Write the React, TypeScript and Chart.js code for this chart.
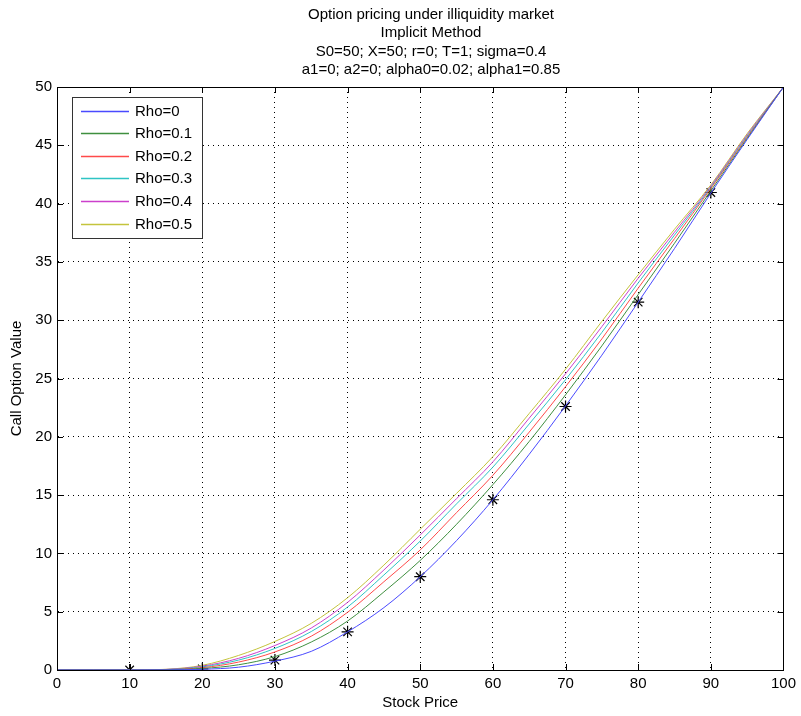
import React, { useEffect, useRef } from "react";
import { Chart, registerables } from "chart.js";

Chart.register(...registerables);

const FONT = "'Liberation Sans', Arial, Helvetica, sans-serif";

const titleLines = [
  "Option pricing under illiquidity market",
  "Implicit Method",
  "S0=50; X=50; r=0; T=1; sigma=0.4",
  "a1=0; a2=0; alpha0=0.02; alpha1=0.85",
];
const xLabel = "Stock Price";
const yLabel = "Call Option Value";

const stockPrice = [0, 5, 10, 15, 20, 25, 30, 35, 40, 45, 50, 55, 60, 65, 70, 75, 80, 85, 90, 95, 100];
const rho0 = [0, 0, 0, 0.01, 0.06, 0.24, 0.76, 1.6, 3.27, 5.35, 8.0, 11.1, 14.6, 18.5, 22.65, 27.0, 31.55, 36.15, 40.9, 45.5, 50];
const rho01 = [0, 0, 0, 0.02, 0.13, 0.45, 1.15, 2.4, 4.2, 6.7, 9.4, 12.5, 15.9, 19.6, 23.6, 27.8, 32.2, 36.6, 41.1, 45.6, 50];
const rho02 = [0, 0, 0, 0.03, 0.2, 0.68, 1.55, 2.9, 4.95, 7.57, 10.3, 13.5, 16.7, 20.4, 24.3, 28.4, 32.75, 37.0, 41.3, 45.7, 50];
const rho03 = [0, 0, 0, 0.04, 0.27, 0.85, 1.85, 3.3, 5.4, 8.15, 11.06, 14.25, 17.4, 21.1, 24.9, 28.95, 33.2, 37.3, 41.4, 45.8, 50];
const rho04 = [0, 0, 0, 0.05, 0.33, 1.0, 2.1, 3.6, 5.8, 8.58, 11.58, 14.7, 17.85, 21.6, 25.4, 29.45, 33.6, 37.55, 41.5, 45.9, 50];
const rho05 = [0, 0, 0, 0.06, 0.4, 1.25, 2.45, 4.0, 6.2, 9.0, 12.07, 15.15, 18.3, 22.0, 25.8, 29.9, 33.9, 37.8, 41.6, 46.0, 50];

const seriesNames = ["Rho=0", "Rho=0.1", "Rho=0.2", "Rho=0.3", "Rho=0.4", "Rho=0.5"];
const seriesValues = [rho0, rho01, rho02, rho03, rho04, rho05];
const seriesColors = ["#4a4aff", "#3f8f3f", "#ff4a4a", "#2ec4c4", "#cc40cc", "#c4c43c"];

const markerPrice = [10, 20, 30, 40, 50, 60, 70, 80, 90];
const markerValue = [0.0, 0.1, 0.85, 3.27, 8.0, 14.6, 22.6, 31.55, 40.95];

const xTickValues = [0, 10, 20, 30, 40, 50, 60, 70, 80, 90, 100];
const yTickValues = [0, 5, 10, 15, 20, 25, 30, 35, 40, 45, 50];

const decorPlugin = {
  id: "decor",
  afterDraw(chart: any) {
    const { ctx, chartArea } = chart;
    const { left, right, top, bottom } = chartArea;
    const xs = chart.scales.x;
    const ys = chart.scales.y;
    ctx.save();
    ctx.strokeStyle = "#000";
    ctx.lineWidth = 1;
    ctx.beginPath();
    const tl = 6;
    for (const v of xTickValues) {
      const px = Math.round(xs.getPixelForValue(v)) + 0.5;
      ctx.moveTo(px, bottom);
      ctx.lineTo(px, bottom - tl);
      ctx.moveTo(px, top);
      ctx.lineTo(px, top + tl);
    }
    for (const v of yTickValues) {
      const py = Math.round(ys.getPixelForValue(v)) + 0.5;
      ctx.moveTo(left, py);
      ctx.lineTo(left + tl, py);
      ctx.moveTo(right, py);
      ctx.lineTo(right - tl, py);
    }
    ctx.stroke();
    ctx.strokeRect(Math.round(left) + 0.5, Math.round(top) + 0.5, Math.round(right - left), Math.round(bottom - top));

    // title
    ctx.fillStyle = "#000";
    ctx.font = `15px ${FONT}`;
    ctx.textAlign = "center";
    ctx.textBaseline = "middle";
    titleLines.forEach((t, i) => {
      ctx.fillText(t, 431, 15 + i * 18.3);
    });

    // legend
    const lx = 72, ly = 97, lw = 130, lh = 141;
    ctx.fillStyle = "#fff";
    ctx.fillRect(lx, ly, lw, lh);
    ctx.strokeStyle = "#333";
    ctx.lineWidth = 1;
    ctx.strokeRect(lx + 0.5, ly + 0.5, lw, lh);
    ctx.font = `15px ${FONT}`;
    ctx.textAlign = "left";
    ctx.textBaseline = "middle";
    seriesNames.forEach((name, i) => {
      const cy = Math.round(110.5 + i * 22.6) + 0.5;
      ctx.strokeStyle = seriesColors[i];
      ctx.lineWidth = 1.5;
      ctx.beginPath();
      ctx.moveTo(81, cy);
      ctx.lineTo(129, cy);
      ctx.stroke();
      ctx.fillStyle = "#000";
      ctx.fillText(name, 135, cy);
    });
    ctx.restore();
  },
};

export default function App() {
  const ref = useRef<HTMLCanvasElement>(null);
  useEffect(() => {
    if (!ref.current) return;
    const datasets: any[] = seriesValues.map((vals, i) => ({
      label: seriesNames[i],
      data: stockPrice.map((x, j) => ({ x, y: vals[j] })),
      borderColor: seriesColors[i],
      backgroundColor: seriesColors[i],
      borderWidth: 1,
      pointRadius: 0,
      cubicInterpolationMode: "monotone",
      fill: false,
    }));
    datasets.push({
      label: "marker",
      data: markerPrice.map((x, j) => ({ x, y: markerValue[j] })),
      showLine: false,
      pointStyle: "star",
      pointRadius: 6,
      pointBorderColor: "#000",
      pointBackgroundColor: "#000",
      pointBorderWidth: 1.2,
      borderColor: "#000",
    });
    const chart = new Chart(ref.current, {
      type: "line",
      data: { datasets },
      plugins: [decorPlugin],
      options: {
        responsive: false,
        animation: false,
        devicePixelRatio: 1,
        layout: { padding: { top: 87, right: 17, bottom: 0, left: 0 } },
        plugins: { legend: { display: false }, title: { display: false }, tooltip: { enabled: false } },
        scales: {
          x: {
            type: "linear",
            min: 0,
            max: 100,
            afterFit: (s: any) => { s.height = 46; },
            afterBuildTicks: (s: any) => { s.ticks = xTickValues.map((v) => ({ value: v })); },
            ticks: { font: { family: FONT, size: 15 }, color: "#000", padding: 5, maxRotation: 0 },
            grid: { color: "#000", lineWidth: 1, drawTicks: false },
            border: { display: true, color: "#000", dash: [1, 4] },
            title: { display: true, text: xLabel, font: { family: FONT, size: 15 }, color: "#000", padding: { top: 4, bottom: 4 } },
          },
          y: {
            type: "linear",
            min: 0,
            max: 50,
            afterFit: (s: any) => { s.width = 57; },
            afterBuildTicks: (s: any) => { s.ticks = yTickValues.map((v) => ({ value: v })); },
            ticks: { font: { family: FONT, size: 15 }, color: "#000", padding: 5 },
            grid: { color: "#000", lineWidth: 1, drawTicks: false },
            border: { display: true, color: "#000", dash: [1, 4] },
            title: { display: true, text: yLabel, font: { family: FONT, size: 15 }, color: "#000", padding: { top: 8, bottom: 0 } },
          },
        },
      } as any,
    });
    return () => chart.destroy();
  }, []);
  return (
    <div style={{ position: "absolute", left: 0, top: 0, width: 801, height: 716, background: "#fff" }}>
      <canvas ref={ref} width={801} height={716} style={{ display: "block" }} />
    </div>
  );
}
